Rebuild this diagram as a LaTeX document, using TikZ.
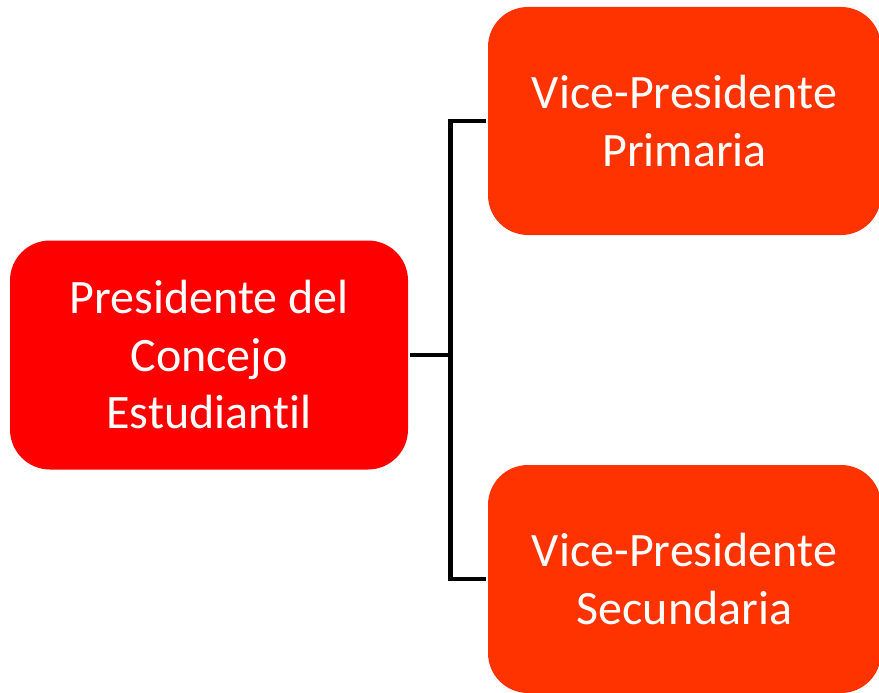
\documentclass[tikz,border=0pt]{standalone}
\usepackage{fontspec}
\setmainfont{Carlito}[Ligatures=NoCommon]
\usepackage{xcolor}
\definecolor{jefe}{HTML}{FF0000}
\definecolor{vice}{HTML}{FF3300}

\begin{document}
\begin{tikzpicture}[x=1pt, y=-1pt, line width=4.5pt,
        main/.style = {rounded corners=40pt, text=white, align=center, inner sep=0pt,
            font=\fontsize{48}{57.5}\selectfont},
        pres/.style = {main, fill=jefe, minimum width=398pt, minimum height=229pt},
        vp/.style = {main, fill=vice, minimum width=393pt, minimum height=228pt}]
        \useasboundingbox (0,0) rectangle (879,693);
        \node[pres] (P) at (209,355) {Presidente del\\Concejo\\Estudiantil};
        \node[vp] (V1) at (684.5,121) {Vice-Presidente\\Primaria};
        \node[vp] (V2) at (684.5,579) {Vice-Presidente\\Secundaria};

        \draw (P.east) -- ++(40,0) coordinate (J);
        \draw (V1.west) -| (J) |- (V2.west);
    \end{tikzpicture}
\end{document}
